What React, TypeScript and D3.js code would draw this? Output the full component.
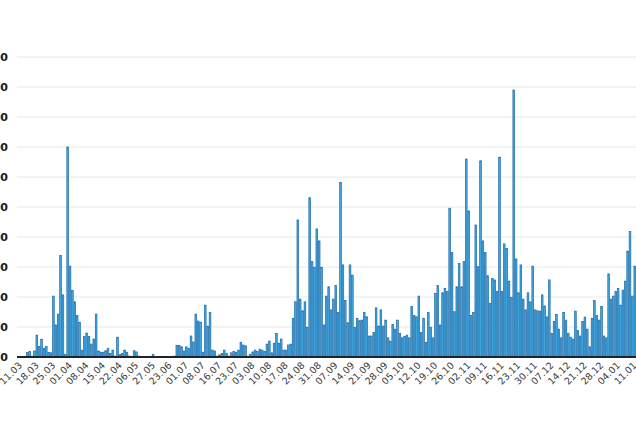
import React from "react";
import * as d3 from "d3";

const seg1 = [0,0,0,0,15,18,3,20,73,35,59,29,35,15,14,203,107,143,338,207,9,700,303,222,184,138,116,23,68,80,68,43,60,143,20,16,16,21,29,12,23,3,66,8,12,23,16,3,0,21,17];
const seg2 = [3,2,0,0,2,0,9,0,0,2,0,0,0,0,2,3,39,39,34,20,34,29,70,50,143,120,116,16,173,103,149,23,20,3,7,12,23,12,3,14,19,16,23,49,40,37,3,9,17,23];
const seg3 = [18,26,23,18,43,53,14,46,79,46,60,23,23,40,43,129,184,457,193,154,184,99,531,318,299,427,387,299,107,203,234,157,193,238,148,582,307,188,114,307,273,99,129,121,123,149,134,70,70,82,164,103,157];
const seg4 = [103,123,64,53,109,93,123,79,64,68,73,64,168,138,134,203,82,129,49,149,99,64,212,238,107,214,229,218,496,348,151,234,312,234,318,660,487,138,149,440,301,654,387,348,271,179,262,257,218,666,218,377];
const seg5 = [362,253,199,890,327,214,307,193,157,214,184,303,157,154,153,207,170,134,257,79,119,142,93,64,149,123,79,66,60,153,88,70,118,133,93,34,129,188,138,123,168,70,64,277,193,203,218,229,173,223,253,353,418,203,303];

const values: number[] = [...seg1, ...seg2, ...seg3, ...seg4, ...seg5];

const tickLabels = ["11.03","18.03","25.03","01.04","08.04","15.04","22.04","06.05","27.05","23.06","01.07","08.07","16.07","23.07","03.08","10.08","17.08","24.08","31.08","07.09","14.09","21.09","28.09","05.10","12.10","19.10","26.10","02.11","09.11","16.11","23.11","30.11","07.12","14.12","21.12","28.12","04.01","11.01"];
const tickEvery = 7;
const yTicks = [0,100,200,300,400,500,600,700,800,900,1000];

const W = 636;
const H = 427;
const left = 17;
const step = 2.37;
const zeroY = 357;
const topY = 57;

export default function App() {
  const idx = values.map((_, i) => i);
  const x = d3.scaleBand<number>().domain(idx).range([left, left + step * values.length]).paddingInner(0.3).paddingOuter(0);
  const y = d3.scaleLinear().domain([0, 1000]).range([zeroY, topY]);

  return (
    <svg width={W} height={H} style={{ position: "absolute", left: 0, top: 0, background: "#fff" }}>
      <g>
        {yTicks.filter(t => t > 0).map(t => (
          <line key={t} x1={left} x2={W} y1={y(t)} y2={y(t)} stroke="#e8e8e8" strokeWidth={1} />
        ))}
      </g>
      <g>
        {yTicks.map(t => (
          <text key={t} x={8} y={y(t)} dy="0.36em" textAnchor="end" fontFamily="DejaVu Sans" fontWeight="bold" fontSize={11} fill="#1a1a1a">{t}</text>
        ))}
      </g>
      <g>
        {values.map((v, i) => (
          <rect key={i} x={x(i)} y={y(v)} width={x.bandwidth()} height={zeroY - y(v)} fill="#45a9e0" stroke="#1a6caa" strokeWidth={0.7} />
        ))}
      </g>
      <line x1={left} x2={W} y1={zeroY} y2={zeroY} stroke="#1b2530" strokeWidth={2} />
      <g>
        {tickLabels.map((lab, k) => {
          const i = k * tickEvery;
          const cx = (x(i) ?? 0) + x.bandwidth() / 2;
          return (
            <text key={lab} transform={`translate(${cx + 5},${zeroY + 9}) rotate(-45)`} textAnchor="end" fontFamily="DejaVu Sans" fontSize={9.5} fill="#3a3a3a">{lab}</text>
          );
        })}
      </g>
    </svg>
  );
}
